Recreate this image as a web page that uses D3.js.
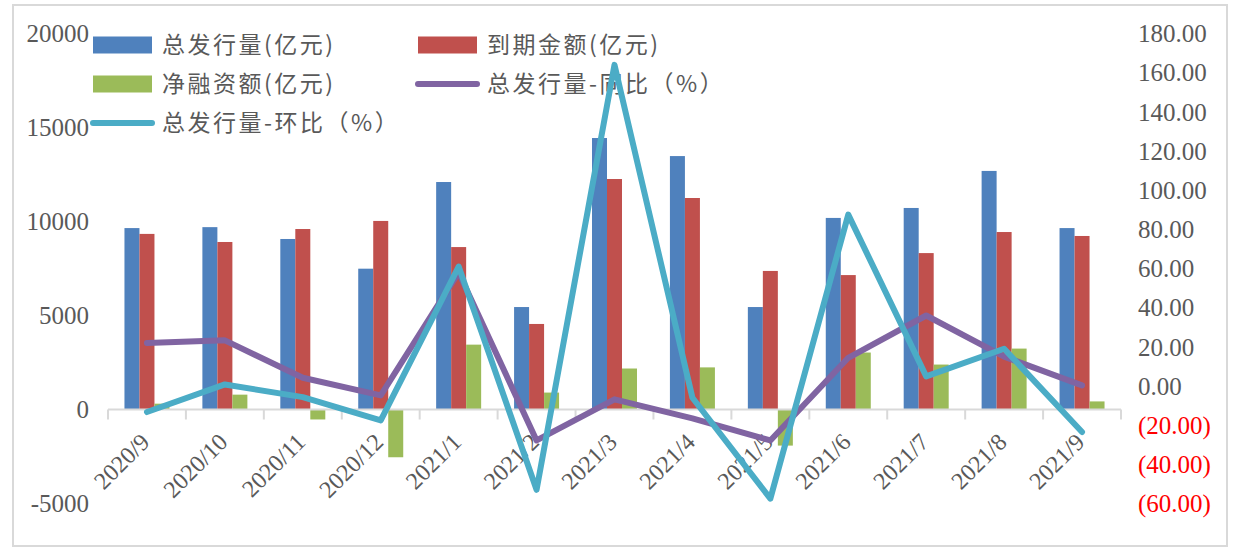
<!DOCTYPE html>
<html>
<head>
<meta charset="utf-8">
<script src="https://cdn.jsdelivr.net/npm/d3@7"></script>
<style>
  html, body { margin: 0; padding: 0; background: #fff; }
  svg { display: block; }
</style>
</head>
<body>
<svg id="chart" width="1243" height="556"></svg>
<script>
const categories = ["2020/9","2020/10","2020/11","2020/12","2021/1","2021/2","2021/3","2021/4","2021/5","2021/6","2021/7","2021/8","2021/9"];
const issuance = [9650, 9700, 9070, 7490, 12100, 5450, 14440, 13480, 5450, 10190, 10720, 12690, 9650];
const maturity = [9340, 8910, 9600, 10030, 8640, 4550, 12260, 11250, 7370, 7150, 8320, 9440, 9230];
const netFinancing = [310, 790, -530, -2540, 3450, 900, 2180, 2240, -1920, 3030, 2390, 3240, 430];
const yoy = [22, 23.3, 4.2, -4.8, 58, -27.8, -6.8, -16.5, -27.8, 14.4, 36, 15, 0.3];
const mom = [-13.3, 0.8, -5.7, -17.6, 61, -53, 164, -6, -57.5, 87.5, 4.9, 19, -23.5];
const leftTicks = [-5000, 0, 5000, 10000, 15000, 20000];
const rightTicks = [-60, -40, -20, 0, 20, 40, 60, 80, 100, 120, 140, 160, 180];
const barSeries = ["总发行量(亿元)", "到期金额(亿元)", "净融资额(亿元)"];
const lineSeries = ["总发行量-同比（%）", "总发行量-环比（%）"];

const colors = {bar0: "#4F81BD", bar1: "#C0504D", bar2: "#9BBB59", yoy: "#8064A2", mom: "#4BACC6"};
const textColor = "#595959";
const serif = "'Liberation Serif', 'Times New Roman', serif";
const cjk = "'Noto Sans CJK SC', 'Noto Sans', sans-serif";

const svg = d3.select("#chart");

// frame
svg.append("rect").attr("x", 13).attr("y", 5).attr("width", 1214).attr("height", 541)
  .attr("fill", "#fff").attr("stroke", "#d9d9d9").attr("stroke-width", 2);

const plotLeft = 108, plotRight = 1121, plotTop = 33.5, plotBottom = 503.5;

const x = d3.scaleBand().domain(categories).range([plotLeft, plotRight]).paddingInner(0).paddingOuter(0);
const bw = x.bandwidth();
const barW = 15;
const x1 = d3.scaleBand().domain([0,1,2]).range([bw/2 - 1.5*barW, bw/2 + 1.5*barW]).padding(0);

const yL = d3.scaleLinear().domain([-5000, 20000]).range([plotBottom, plotTop]);
const yR = d3.scaleLinear().domain([-60, 180]).range([plotBottom, plotTop]);

// left axis labels
const leftAxis = d3.axisLeft(yL).tickValues(leftTicks).tickSize(0).tickPadding(0).tickFormat(d => String(d));
const gL = svg.append("g").attr("transform", "translate(89,0)").call(leftAxis);
gL.select(".domain").remove();
gL.selectAll("text").attr("font-family", serif).attr("font-size", 25).attr("fill", textColor).attr("dy", "0.33em");

// right axis labels
const fmtR = d => d < 0 ? "(" + Math.abs(d).toFixed(2) + ")" : d.toFixed(2);
const rightAxis = d3.axisRight(yR).tickValues(rightTicks).tickSize(0).tickPadding(0).tickFormat(fmtR);
const gR = svg.append("g").attr("transform", "translate(1138,0)").call(rightAxis);
gR.select(".domain").remove();
gR.selectAll("text").attr("font-family", serif).attr("font-size", 25).attr("dy", "0.33em")
  .attr("fill", d => d < 0 ? "#FF0000" : textColor);

// legend
const legend = svg.append("g");
const legItems = [
  {type: "rect", color: colors.bar0, label: barSeries[0], x: 93, y: 45},
  {type: "rect", color: colors.bar1, label: barSeries[1], x: 418, y: 45},
  {type: "rect", color: colors.bar2, label: barSeries[2], x: 93, y: 84},
  {type: "line", color: colors.yoy, label: lineSeries[0], x: 418, y: 84},
  {type: "line", color: colors.mom, label: lineSeries[1], x: 93, y: 123}
];
legItems.forEach(it => {
  if (it.type === "rect") {
    legend.append("rect").attr("x", it.x).attr("y", it.y - 8.5).attr("width", 59).attr("height", 17).attr("fill", it.color);
  } else {
    legend.append("line").attr("x1", it.x).attr("x2", it.x + 59).attr("y1", it.y).attr("y2", it.y)
      .attr("stroke", it.color).attr("stroke-width", 6).attr("stroke-linecap", "round");
  }
  legend.append("text").attr("x", it.x + 69).attr("y", it.y).attr("dy", "0.36em")
    .attr("font-family", cjk).attr("font-size", 23).attr("letter-spacing", "2.5px")
    .attr("fill", textColor).text(it.label);
});

// bars
const barData = [issuance, maturity, netFinancing];
const barColors = [colors.bar0, colors.bar1, colors.bar2];
barData.forEach((arr, si) => {
  svg.append("g").selectAll("rect").data(arr).join("rect")
    .attr("x", (d, i) => x(categories[i]) + x1(si))
    .attr("width", x1.bandwidth())
    .attr("y", d => Math.min(yL(d), yL(0)))
    .attr("height", d => Math.abs(yL(d) - yL(0)))
    .attr("fill", barColors[si]);
});

// category axis at zero
const xAxisG = svg.append("g");
xAxisG.append("line").attr("x1", plotLeft).attr("x2", plotRight).attr("y1", yL(0)).attr("y2", yL(0))
  .attr("stroke", "#d9d9d9").attr("stroke-width", 2);
const boundaries = categories.map(c => x(c)).concat([plotRight]);
xAxisG.selectAll("line.tick").data(boundaries).join("line").attr("class", "tick")
  .attr("x1", d => d).attr("x2", d => d).attr("y1", yL(0)).attr("y2", yL(0) + 10)
  .attr("stroke", "#d9d9d9").attr("stroke-width", 2);
xAxisG.selectAll("text").data(categories).join("text")
  .attr("transform", d => `translate(${x(d) + bw/2 + 4},${yL(0) + 34}) rotate(-45)`)
  .attr("text-anchor", "end")
  .attr("font-family", serif).attr("font-size", 24).attr("fill", textColor)
  .text(d => d);

// lines
const lineGen = d3.line().x((d, i) => x(categories[i]) + bw/2).y(d => yR(d));
svg.append("path").datum(yoy).attr("d", lineGen).attr("fill", "none").attr("stroke", colors.yoy)
  .attr("stroke-width", 6).attr("stroke-linejoin", "round").attr("stroke-linecap", "round");
svg.append("path").datum(mom).attr("d", lineGen).attr("fill", "none").attr("stroke", colors.mom)
  .attr("stroke-width", 6).attr("stroke-linejoin", "round").attr("stroke-linecap", "round");
</script>
</body>
</html>
